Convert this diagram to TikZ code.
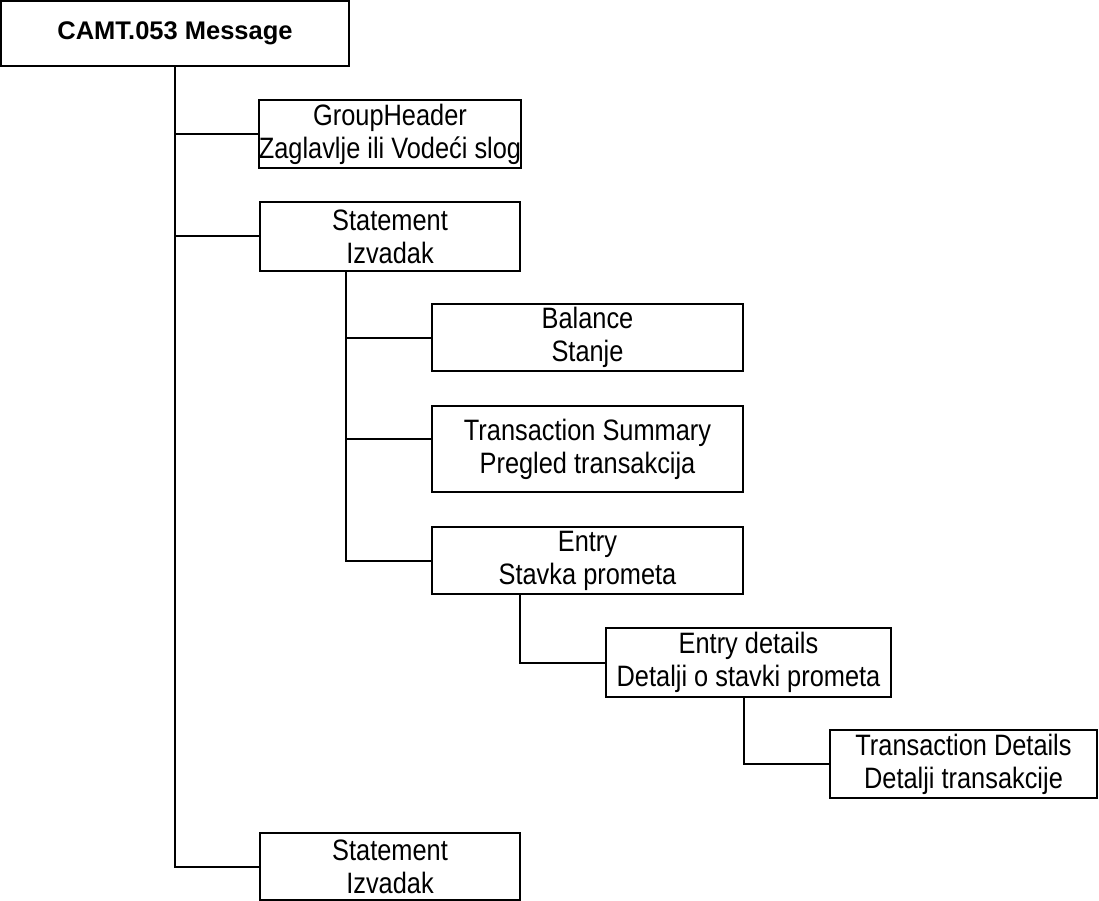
\documentclass[tikz,border=0pt]{standalone}
\usepackage{fontspec}
\setmainfont{Liberation Sans}[FakeStretch=0.86]
\newfontfamily\naslovfont{Liberation Sans}

\tikzset{
	blok/.style={draw, line width=2pt, rectangle, inner sep=0pt, align=center,
		font=\fontsize{29.5}{33}\selectfont},
	veza/.style={line width=2pt}
}

\begin{document}
\begin{tikzpicture}[x=1pt, y=-1pt]
		\useasboundingbox ( 0, 0 ) rectangle ( 1099, 901 );

		% poruka
		\node [blok, minimum width=348, minimum height=65, font=\naslovfont\bfseries\fontsize{25.5}{33}\selectfont] (camt) at ( 175, 33.5 ) {CAMT.053 Message};

		% prvi nivo
		\node [blok, minimum width=260, minimum height=68] (grphdr) at ( 390, 134 ) {GroupHeader\\Zaglavlje ili Vodeći slog};
		\node [blok, minimum width=260, minimum height=69] (stmt) at ( 390, 236.5 ) {Statement\\Izvadak};
		\node [blok, minimum width=260, minimum height=67] (stmtb) at ( 390, 866.5 ) {Statement\\Izvadak};

		% drugi nivo
		\node [blok, minimum width=311, minimum height=67] (bal) at ( 587.5, 337.5 ) {Balance\\Stanje};
		\node [blok, minimum width=311, minimum height=86] (txsumry) at ( 587.5, 449 ) {Transaction Summary\\Pregled transakcija};
		\node [blok, minimum width=311, minimum height=67] (ntry) at ( 587.5, 560.5 ) {Entry\\Stavka prometa};

		% treci i cetvrti nivo
		\node [blok, minimum width=285, minimum height=69] (ntrydtls) at ( 748.5, 662.5 ) {Entry details\\Detalji o stavki prometa};
		\node [blok, minimum width=267, minimum height=68] (txdtls) at ( 963.5, 764 ) {Transaction Details\\Detalji transakcije};

		% veze
		\draw [veza] (camt.south) |- (grphdr.west);
		\draw [veza] (camt.south) |- (stmt.west);
		\draw [veza] (camt.south) |- (stmtb.west);

		\draw [veza] ([xshift=-44pt]stmt.south) |- (bal.west);
		\draw [veza] ([xshift=-44pt]stmt.south) |- ([yshift=10pt]txsumry.west);
		\draw [veza] ([xshift=-44pt]stmt.south) |- (ntry.west);

		\draw [veza] ([xshift=-67.5pt]ntry.south) |- (ntrydtls.west);
		\draw [veza] ([xshift=-4.5pt]ntrydtls.south) |- (txdtls.west);
	\end{tikzpicture}
\end{document}
